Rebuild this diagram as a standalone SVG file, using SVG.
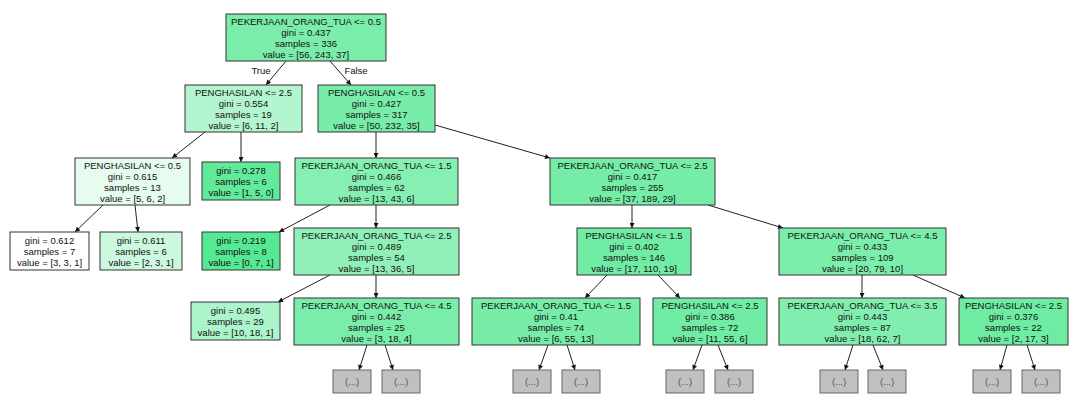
<svg xmlns="http://www.w3.org/2000/svg" width="1070" height="394" viewBox="0 0 1070 394">
<defs>
<marker id="ah" viewBox="0 0 10 10" refX="10" refY="5" markerWidth="6" markerHeight="5" markerUnits="userSpaceOnUse" orient="auto">
<path d="M0,0 L10,5 L0,10 z" fill="#111"/>
</marker>
<style>
.n rect{stroke:#333;stroke-width:1}
.n text,.lbl{font-family:"Liberation Sans",Arial,sans-serif;font-size:9.5px;fill:#111;text-anchor:middle}
.g rect{fill:#c0c0c0;stroke:#666;stroke-width:1}
.g text{font-family:"Liberation Sans",Arial,sans-serif;font-size:9.5px;fill:#555;text-anchor:middle}
.e line{stroke:#222;stroke-width:1;marker-end:url(#ah)}
</style>
</defs>
<rect width="1070" height="394" fill="#ffffff"/>
<g id="connectors" class="e">
<line x1="286" y1="61" x2="266" y2="85"/>
<line x1="330" y1="61" x2="351" y2="85"/>
<line x1="205" y1="132" x2="172" y2="158"/>
<line x1="241" y1="132" x2="241" y2="162"/>
<line x1="376" y1="132" x2="376" y2="158"/>
<line x1="435" y1="125" x2="550" y2="158"/>
<line x1="103" y1="205" x2="75" y2="232"/>
<line x1="135" y1="205" x2="138" y2="232"/>
<line x1="330" y1="205" x2="279" y2="232"/>
<line x1="376" y1="205" x2="376" y2="228"/>
<line x1="632" y1="205" x2="632" y2="228"/>
<line x1="708" y1="205" x2="783" y2="228"/>
<line x1="330" y1="275" x2="278" y2="302"/>
<line x1="376" y1="275" x2="376" y2="298"/>
<line x1="607" y1="275" x2="585" y2="298"/>
<line x1="658" y1="275" x2="680" y2="298"/>
<line x1="862" y1="275" x2="862" y2="298"/>
<line x1="913" y1="275" x2="965" y2="298"/>
<line x1="367" y1="345" x2="359" y2="370"/>
<line x1="385" y1="345" x2="393" y2="370"/>
<line x1="548" y1="345" x2="539" y2="370"/>
<line x1="567" y1="345" x2="575" y2="370"/>
<line x1="702" y1="345" x2="693" y2="370"/>
<line x1="718" y1="345" x2="728" y2="370"/>
<line x1="853" y1="345" x2="845" y2="370"/>
<line x1="873" y1="345" x2="883" y2="370"/>
<line x1="1007" y1="345" x2="1000" y2="370"/>
<line x1="1027" y1="345" x2="1035" y2="370"/>
<text class="lbl" x="261" y="74">True</text>
<text class="lbl" x="356" y="74">False</text>
</g>
<g id="n0" class="n"><rect x="226" y="14" width="160" height="47" fill="#7bedab"/>
<text x="306" y="24.5">PEKERJAAN_ORANG_TUA &lt;= 0.5</text><text x="306" y="35.5">gini = 0.437</text><text x="306" y="46.5">samples = 336</text><text x="306" y="57.5">value = [56, 243, 37]</text></g>
<g id="n1" class="n"><rect x="185" y="85" width="117" height="47" fill="#b3f5ce"/>
<text x="243.5" y="95.5">PENGHASILAN &lt;= 2.5</text><text x="243.5" y="106.5">gini = 0.554</text><text x="243.5" y="117.5">samples = 19</text><text x="243.5" y="128.5">value = [6, 11, 2]</text></g>
<g id="n2" class="n"><rect x="318" y="85" width="117" height="47" fill="#78eda9"/>
<text x="376.5" y="95.5">PENGHASILAN &lt;= 0.5</text><text x="376.5" y="106.5">gini = 0.427</text><text x="376.5" y="117.5">samples = 317</text><text x="376.5" y="128.5">value = [50, 232, 35]</text></g>
<g id="n3" class="n"><rect x="75" y="158" width="115" height="47" fill="#e6fcef"/>
<text x="132.5" y="168.5">PENGHASILAN &lt;= 0.5</text><text x="132.5" y="179.5">gini = 0.615</text><text x="132.5" y="190.5">samples = 13</text><text x="132.5" y="201.5">value = [5, 6, 2]</text></g>
<g id="n4" class="n"><rect x="202" y="162" width="78" height="38" fill="#61ea9a"/>
<text x="241" y="173.5">gini = 0.278</text><text x="241" y="184.5">samples = 6</text><text x="241" y="195.5">value = [1, 5, 0]</text></g>
<g id="n5" class="n"><rect x="295" y="158" width="163" height="47" fill="#86efb2"/>
<text x="376.5" y="168.5">PEKERJAAN_ORANG_TUA &lt;= 1.5</text><text x="376.5" y="179.5">gini = 0.466</text><text x="376.5" y="190.5">samples = 62</text><text x="376.5" y="201.5">value = [13, 43, 6]</text></g>
<g id="n6" class="n"><rect x="550" y="158" width="165" height="47" fill="#75eda7"/>
<text x="632.5" y="168.5">PEKERJAAN_ORANG_TUA &lt;= 2.5</text><text x="632.5" y="179.5">gini = 0.417</text><text x="632.5" y="190.5">samples = 255</text><text x="632.5" y="201.5">value = [37, 189, 29]</text></g>
<g id="n7" class="n"><rect x="10" y="232" width="79" height="38" fill="#ffffff"/>
<text x="49.5" y="243.5">gini = 0.612</text><text x="49.5" y="254.5">samples = 7</text><text x="49.5" y="265.5">value = [3, 3, 1]</text></g>
<g id="n8" class="n"><rect x="100" y="232" width="82" height="38" fill="#cdf8e0"/>
<text x="141" y="243.5">gini = 0.611</text><text x="141" y="254.5">samples = 6</text><text x="141" y="265.5">value = [2, 3, 1]</text></g>
<g id="n9" class="n"><rect x="202" y="232" width="78" height="38" fill="#55e993"/>
<text x="241" y="243.5">gini = 0.219</text><text x="241" y="254.5">samples = 8</text><text x="241" y="265.5">value = [0, 7, 1]</text></g>
<g id="n10" class="n"><rect x="294" y="228" width="165" height="47" fill="#90f0b8"/>
<text x="376.5" y="238.5">PEKERJAAN_ORANG_TUA &lt;= 2.5</text><text x="376.5" y="249.5">gini = 0.489</text><text x="376.5" y="260.5">samples = 54</text><text x="376.5" y="271.5">value = [13, 36, 5]</text></g>
<g id="n11" class="n"><rect x="577" y="228" width="114" height="47" fill="#71eca5"/>
<text x="634" y="238.5">PENGHASILAN &lt;= 1.5</text><text x="634" y="249.5">gini = 0.402</text><text x="634" y="260.5">samples = 146</text><text x="634" y="271.5">value = [17, 110, 19]</text></g>
<g id="n12" class="n"><rect x="779" y="228" width="167" height="47" fill="#7ceeab"/>
<text x="862.5" y="238.5">PEKERJAAN_ORANG_TUA &lt;= 4.5</text><text x="862.5" y="249.5">gini = 0.433</text><text x="862.5" y="260.5">samples = 109</text><text x="862.5" y="271.5">value = [20, 79, 10]</text></g>
<g id="n13" class="n"><rect x="191" y="302" width="89" height="38" fill="#acf4ca"/>
<text x="235.5" y="313.5">gini = 0.495</text><text x="235.5" y="324.5">samples = 29</text><text x="235.5" y="335.5">value = [10, 18, 1]</text></g>
<g id="n14" class="n"><rect x="294" y="298" width="165" height="47" fill="#7bedab"/>
<text x="376.5" y="308.5">PEKERJAAN_ORANG_TUA &lt;= 4.5</text><text x="376.5" y="319.5">gini = 0.442</text><text x="376.5" y="330.5">samples = 25</text><text x="376.5" y="341.5">value = [3, 18, 4]</text></g>
<g id="n15" class="n"><rect x="472" y="298" width="168" height="47" fill="#77eda8"/>
<text x="556" y="308.5">PEKERJAAN_ORANG_TUA &lt;= 1.5</text><text x="556" y="319.5">gini = 0.41</text><text x="556" y="330.5">samples = 74</text><text x="556" y="341.5">value = [6, 55, 13]</text></g>
<g id="n16" class="n"><rect x="653" y="298" width="114" height="47" fill="#70eca4"/>
<text x="710" y="308.5">PENGHASILAN &lt;= 2.5</text><text x="710" y="319.5">gini = 0.386</text><text x="710" y="330.5">samples = 72</text><text x="710" y="341.5">value = [11, 55, 6]</text></g>
<g id="n17" class="n"><rect x="779" y="298" width="167" height="47" fill="#81eeaf"/>
<text x="862.5" y="308.5">PEKERJAAN_ORANG_TUA &lt;= 3.5</text><text x="862.5" y="319.5">gini = 0.443</text><text x="862.5" y="330.5">samples = 87</text><text x="862.5" y="341.5">value = [18, 62, 7]</text></g>
<g id="n18" class="n"><rect x="959" y="298" width="109" height="47" fill="#6deca2"/>
<text x="1013.5" y="308.5">PENGHASILAN &lt;= 2.5</text><text x="1013.5" y="319.5">gini = 0.376</text><text x="1013.5" y="330.5">samples = 22</text><text x="1013.5" y="341.5">value = [2, 17, 3]</text></g>
<g id="t1" class="g"><rect x="333" y="370" width="38" height="23"/><text x="352" y="385">(...)</text></g>
<g id="t2" class="g"><rect x="382" y="370" width="38" height="23"/><text x="401" y="385">(...)</text></g>
<g id="t3" class="g"><rect x="513" y="370" width="38" height="23"/><text x="532" y="385">(...)</text></g>
<g id="t4" class="g"><rect x="562" y="370" width="38" height="23"/><text x="581" y="385">(...)</text></g>
<g id="t5" class="g"><rect x="666" y="370" width="38" height="23"/><text x="685" y="385">(...)</text></g>
<g id="t6" class="g"><rect x="715" y="370" width="38" height="23"/><text x="734" y="385">(...)</text></g>
<g id="t7" class="g"><rect x="820" y="370" width="38" height="23"/><text x="839" y="385">(...)</text></g>
<g id="t8" class="g"><rect x="868" y="370" width="38" height="23"/><text x="887" y="385">(...)</text></g>
<g id="t9" class="g"><rect x="973" y="370" width="38" height="23"/><text x="992" y="385">(...)</text></g>
<g id="t10" class="g"><rect x="1022" y="370" width="38" height="23"/><text x="1041" y="385">(...)</text></g>
</svg>
